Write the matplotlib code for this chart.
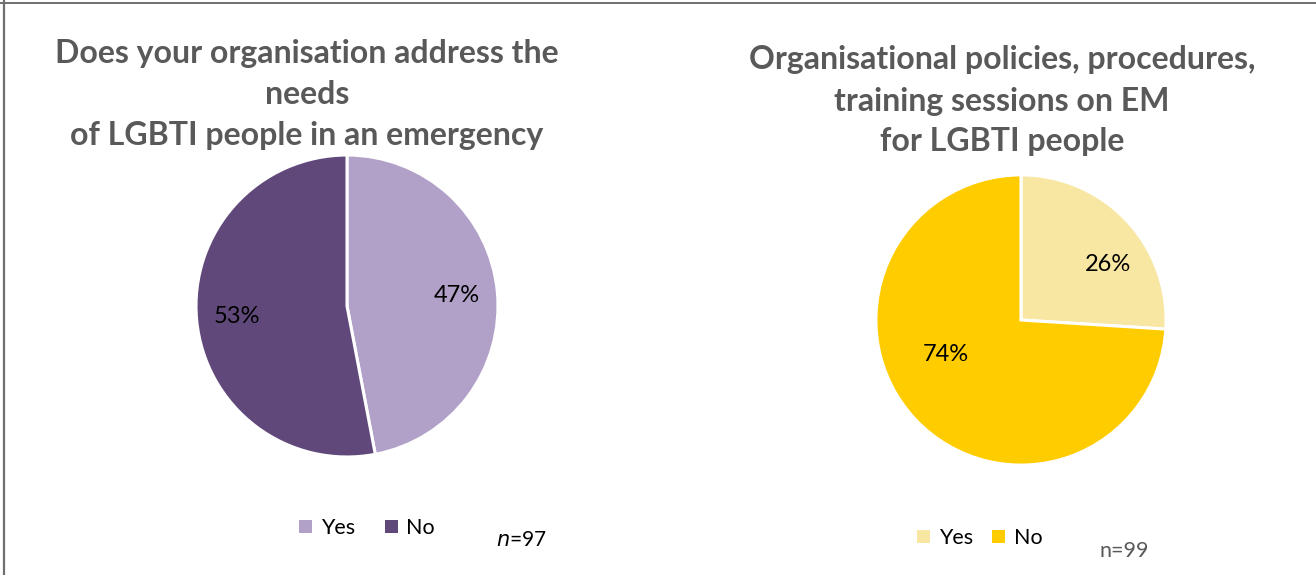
import matplotlib.pyplot as plt
from matplotlib.lines import Line2D
from matplotlib.patches import Patch

# Survey answers (percent of respondents)
labels = ['Yes', 'No']
address_needs = [47, 53]
policies_training = [26, 74]

title_left = 'Does your organisation address the\nneeds\nof LGBTI people in an emergency'
title_right = 'Organisational policies, procedures,\ntraining sessions on EM\nfor LGBTI people'

colors_left = ['#b1a0c7', '#60497a']
colors_right = ['#f8e6a3', '#ffcc00']

plt.rcParams['font.family'] = ['Lato', 'DejaVu Sans']

W, H = 1316, 575
fig = plt.figure(figsize=(W / 100, H / 100), dpi=100)
fig.patch.set_facecolor('white')


def px_axes(cx, cy, r):
    # axes box in figure fractions from a pixel centre and radius
    return fig.add_axes([(cx - r) / W, (H - cy - r) / H, 2 * r / W, 2 * r / H])


def draw_pie(ax, values, colors, pctdist):
    wedges, _, autotexts = ax.pie(
        values, colors=colors, startangle=90, counterclock=False,
        autopct='%1.0f%%', pctdistance=pctdist,
        wedgeprops=dict(edgecolor='white', linewidth=2.2),
        textprops=dict(fontsize=17, color='black'))
    ax.set_xlim(-1.02, 1.02)
    ax.set_ylim(-1.02, 1.02)
    ax.set_aspect('equal')
    return wedges, autotexts


ax1 = px_axes(347, 306, 154)
w1, t1 = draw_pie(ax1, address_needs, colors_left, 0.73)

ax2 = px_axes(1021, 320, 148)
w2, t2 = draw_pie(ax2, policies_training, colors_right, 0.7)
# Excel-style label placement for the small slice
t2[0].set_position((0.6, 0.38))
t2[1].set_position((-0.52, -0.24))

# Titles
fig.text(307 / W, 1 - 94 / H, title_left, ha='center', va='center', fontsize=23,
         fontweight='bold', color='#595959', linespacing=1.5)
fig.text(1002 / W, 1 - 101 / H, title_right, ha='center', va='center', fontsize=23,
         fontweight='bold', color='#595959', linespacing=1.5)

# Legends
h1 = [Patch(facecolor=c, edgecolor='none') for c in colors_left]
fig.legend(h1, labels, loc='center', bbox_to_anchor=(367 / W, 1 - 528 / H), ncol=2,
           frameon=False, fontsize=15.5, handlelength=0.6, handleheight=0.6,
           handletextpad=0.4, columnspacing=1.4)
h2 = [Patch(facecolor=c, edgecolor='none') for c in colors_right]
fig.legend(h2, labels, loc='center', bbox_to_anchor=(980 / W, 1 - 538 / H), ncol=2,
           frameon=False, fontsize=15.5, handlelength=0.6, handleheight=0.6,
           handletextpad=0.4, columnspacing=0.9)

# Sample sizes
fig.text(521 / W, 1 - 540 / H, r'$\mathit{n}$=97', ha='center', va='center',
         fontsize=15, color='black')
fig.text(1124 / W, 1 - 551 / H, 'n=99', ha='center', va='center',
         fontsize=15.5, color='#595959')

# Panel border
fig.add_artist(Line2D([4 / W, 4 / W], [0, 1], color='#6f6f6f', linewidth=1.6))
fig.add_artist(Line2D([0, 1], [1 - 3 / H, 1 - 3 / H], color='#6f6f6f', linewidth=1.4))

fig.savefig('out.png', dpi=100)
